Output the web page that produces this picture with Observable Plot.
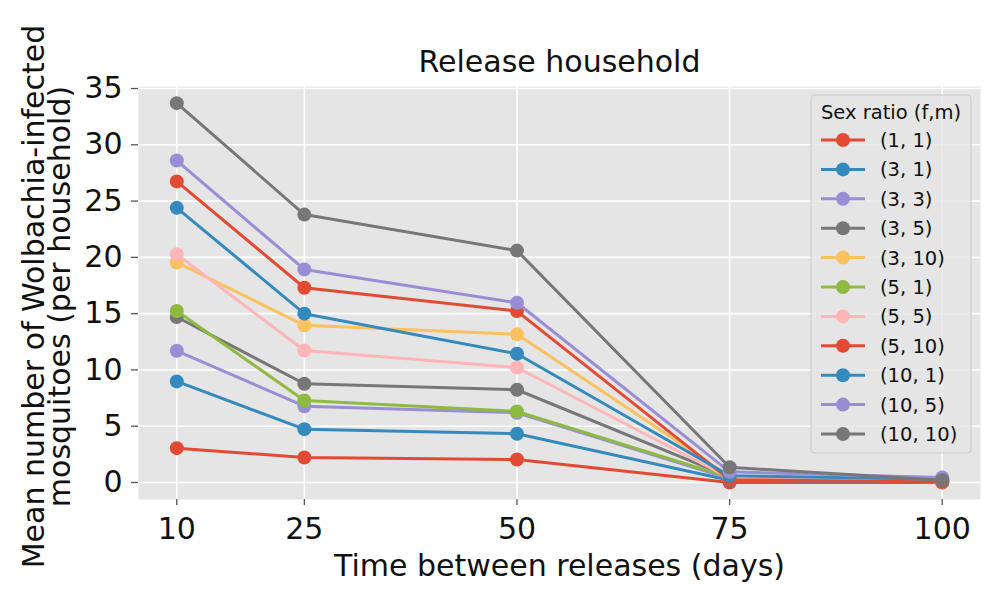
<!DOCTYPE html>
<html>
<head>
<meta charset="utf-8">
<script src="https://cdn.jsdelivr.net/npm/d3@7"></script>
<script src="https://cdn.jsdelivr.net/npm/@observablehq/plot@0.6"></script>
<style>
  body { margin: 0; background: #ffffff; }
  #chart { width: 996px; height: 596px; }
  #chart svg { font-family: "DejaVu Sans", sans-serif; }
</style>
</head>
<body>
<div id="chart"></div>
<script>
// ---- Data ----
const releaseIntervals = [10, 25, 50, 75, 100];
const sexRatios = ["(1, 1)", "(3, 1)", "(3, 3)", "(3, 5)", "(3, 10)", "(5, 1)", "(5, 5)", "(5, 10)", "(10, 1)", "(10, 5)", "(10, 10)"];
const seriesColors = ["#E24A33", "#348ABD", "#988ED5", "#777777", "#FBC15E", "#8EBA42", "#FFB5B8", "#E24A33", "#348ABD", "#988ED5", "#777777"];

const ratio_1_1   = [3.05, 2.22, 2.04, 0.00, 0.00];
const ratio_3_1   = [8.98, 4.74, 4.33, 0.20, 0.05];
const ratio_3_3   = [11.70, 6.78, 6.20, 0.35, 0.10];
const ratio_3_5   = [14.70, 8.77, 8.24, 0.50, 0.15];
const ratio_3_10  = [19.55, 13.96, 13.16, 0.55, 0.10];
const ratio_5_1   = [15.23, 7.29, 6.31, 0.45, 0.10];
const ratio_5_5   = [20.27, 11.73, 10.22, 0.40, 0.05];
const ratio_5_10  = [26.75, 17.30, 15.23, 0.25, 0.05];
const ratio_10_1  = [24.40, 15.00, 11.44, 0.60, 0.30];
const ratio_10_5  = [28.60, 18.93, 15.97, 0.95, 0.45];
const ratio_10_10 = [33.70, 23.80, 20.60, 1.35, 0.20];

const seriesValues = [ratio_1_1, ratio_3_1, ratio_3_3, ratio_3_5, ratio_3_10, ratio_5_1, ratio_5_5, ratio_5_10, ratio_10_1, ratio_10_5, ratio_10_10];

const xTicks = [10, 25, 50, 75, 100];
const yTicks = [0, 5, 10, 15, 20, 25, 30, 35];

const titleText = "Release household";
const xLabel = "Time between releases (days)";
const yLabelLines = ["Mean number of Wolbachia-infected", "mosquitoes (per household)"];
const legendTitle = "Sex ratio (f,m)";

// ---- Build table ----
const rows = [];
sexRatios.forEach((ratio, i) => {
  releaseIntervals.forEach((interval, j) => {
    rows.push({ratio, interval, value: seriesValues[i][j]});
  });
});

const FS = 30;
const marks = [
  Plot.frame({fill: "#E5E5E5", stroke: "none"}),
  Plot.gridX({ticks: xTicks, stroke: "#ffffff", strokeOpacity: 1, strokeWidth: 1.6}),
  Plot.gridY({ticks: yTicks, stroke: "#ffffff", strokeOpacity: 1, strokeWidth: 1.6}),
  Plot.axisX({ticks: xTicks, tickSize: 6, tickPadding: 12, stroke: "#555555", strokeWidth: 1.3, fill: "#111111", fontSize: FS, label: null, tickFormat: d => String(d)}),
  Plot.axisY({ticks: yTicks, tickSize: 7, tickPadding: 9, stroke: "#555555", strokeWidth: 1.3, fill: "#111111", fontSize: FS, label: null, tickFormat: d => String(d)})
];

sexRatios.forEach((ratio) => {
  const d = rows.filter(r => r.ratio === ratio);
  marks.push(Plot.line(d, {x: "interval", y: "value", stroke: "ratio", strokeWidth: 3}));
  marks.push(Plot.dot(d, {x: "interval", y: "value", fill: "ratio", r: 7}));
});

marks.push(Plot.text([titleText], {text: d => d, frameAnchor: "top", lineAnchor: "middle", textAnchor: "middle", dy: -24.6, fontSize: FS, fill: "#111111"}));
marks.push(Plot.text([xLabel], {text: d => d, frameAnchor: "bottom", lineAnchor: "middle", textAnchor: "middle", dy: 66.4, fontSize: FS, fill: "#111111"}));
marks.push(Plot.text([yLabelLines[0]], {text: d => d, frameAnchor: "left", lineAnchor: "middle", textAnchor: "middle", rotate: -90, dx: -104.6, dy: 3.5, fontSize: FS, fill: "#111111"}));
marks.push(Plot.text([yLabelLines[1]], {text: d => d, frameAnchor: "left", lineAnchor: "middle", textAnchor: "middle", rotate: -90, dx: -78.6, dy: 3.5, fontSize: FS, fill: "#111111"}));

const chart = Plot.plot({
  width: 996,
  height: 596,
  marginLeft: 138,
  marginRight: 16,
  marginTop: 86,
  marginBottom: 97,
  style: {fontFamily: "DejaVu Sans, sans-serif", fontSize: FS + "px", background: "#ffffff"},
  x: {type: "linear", domain: [5.5, 104.5]},
  y: {type: "linear", domain: [-1.51, 35.18]},
  color: {type: "ordinal", domain: sexRatios, range: seriesColors},
  marks
});

document.getElementById("chart").appendChild(chart);

// ---- Legend (drawn into the same SVG, colours from the plot's colour scale) ----
const colorScale = chart.scale("color");
const svg = d3.select(chart);
const lg = svg.append("g").attr("font-family", "DejaVu Sans, sans-serif");
const box = {x: 811, y: 95, w: 160, h: 358};
lg.append("rect")
  .attr("x", box.x).attr("y", box.y).attr("width", box.w).attr("height", box.h)
  .attr("rx", 4).attr("fill", "#E5E5E5").attr("fill-opacity", 0.8)
  .attr("stroke", "#CCCCCC").attr("stroke-width", 1.2);
lg.append("text")
  .attr("x", 891).attr("y", 118.5).attr("text-anchor", "middle")
  .attr("font-size", 19.5).attr("fill", "#111111").text(legendTitle);
const domain = colorScale.domain;
const range = colorScale.range;
domain.forEach((label, i) => {
  const cy = 140 + i * 29.4;
  const col = range[i % range.length];
  lg.append("line").attr("x1", 821).attr("x2", 865).attr("y1", cy).attr("y2", cy)
    .attr("stroke", col).attr("stroke-width", 3);
  lg.append("circle").attr("cx", 843).attr("cy", cy).attr("r", 7).attr("fill", col);
  lg.append("text").attr("x", 880).attr("y", cy + 7).attr("font-size", 19.5)
    .attr("text-anchor", "start")
    .attr("fill", "#111111").text(label);
});
</script>
</body>
</html>
